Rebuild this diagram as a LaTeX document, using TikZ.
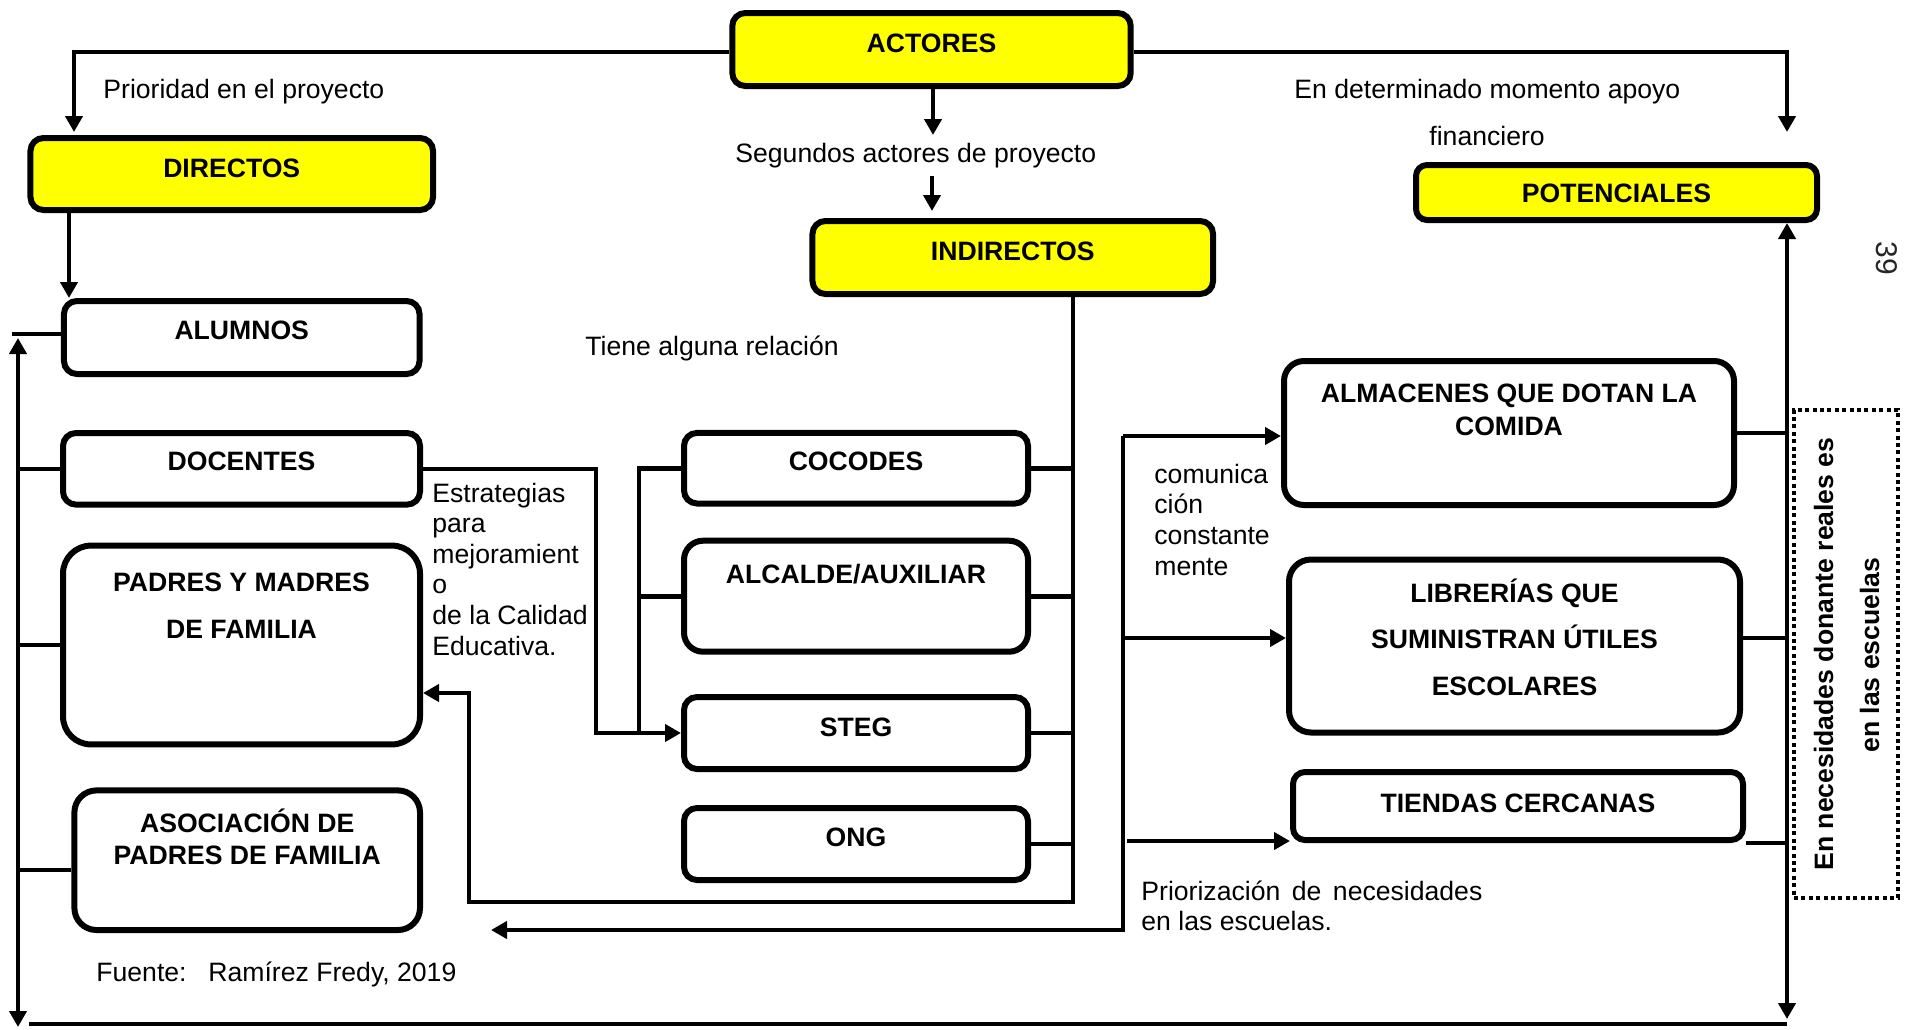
\documentclass[tikz,border=0pt]{standalone}
\usepackage{fontspec}
\setmainfont{Liberation Sans}
\usetikzlibrary{arrows.meta}
\definecolor{amarillo}{RGB}{255,255,0}
\newcommand\fsz{\fontsize{13.3}{16}\selectfont}

\begin{document}
\begin{tikzpicture}[x=0.5pt,y=-0.5pt,
		cbox/.style={draw,line width=3pt,inner sep=0pt,rounded corners=6.5pt},
		ybox/.style={cbox,fill=amarillo},
		blab/.style={font=\fsz\bfseries,anchor=base,inner sep=0pt},
		note/.style={font=\fsz,anchor=base west,inner sep=0pt},
		conn/.style={line width=2.3pt},
		arrw/.style={conn,-{Triangle[length=8pt,width=8.5pt]}},
		darrw/.style={conn,{Triangle[length=8pt,width=8.5pt]}-{Triangle[length=8pt,width=8.5pt]}}]

	\useasboundingbox (0,0) rectangle (1909,1029);

	% cajas amarillas
	\node[ybox,minimum width=199.2pt,minimum height=36.5pt] (actores) at (931.5,49.5) {};
	\node[ybox,minimum width=201.3pt,minimum height=36pt] (directos) at (231.75,174) {};
	\node[ybox,minimum width=200.3pt,minimum height=36.5pt] (indirectos) at (1012.75,257.5) {};
	\node[ybox,minimum width=200.5pt,minimum height=27.5pt,rounded corners=5.5pt] (potenciales) at (1616.5,192.5) {};

	% directos
	\node[cbox,minimum width=177.8pt,minimum height=36.5pt] (alumnos) at (241.75,337.5) {};
	\node[cbox,minimum width=178.5pt,minimum height=35.8pt] (docentes) at (241.5,468.8) {};
	\node[cbox,minimum width=178.5pt,minimum height=99.4pt,rounded corners=14pt] (padres) at (241.5,645) {};
	\node[cbox,minimum width=172.8pt,minimum height=69.8pt,rounded corners=11pt] (asociacion) at (247.2,860.2) {};

	% indirectos
	\node[cbox,minimum width=172pt,minimum height=35.3pt] (cocodes) at (856,468.2) {};
	\node[cbox,minimum width=172pt,minimum height=55.5pt,rounded corners=9.5pt] (alcalde) at (856,596.2) {};
	\node[cbox,minimum width=172pt,minimum height=36pt] (steg) at (856,733) {};
	\node[cbox,minimum width=172pt,minimum height=36pt] (ong) at (856,844) {};

	% potenciales
	\node[cbox,minimum width=225pt,minimum height=72pt,rounded corners=10pt] (almacenes) at (1509,433) {};
	\node[cbox,minimum width=225.5pt,minimum height=86.5pt,rounded corners=11pt] (librerias) at (1514.5,646) {};
	\node[cbox,minimum width=225pt,minimum height=34pt,rounded corners=6pt] (tiendas) at (1518,806) {};

	\node[draw,line width=2pt,dash pattern=on 2pt off 1.7pt,inner sep=0pt,
		minimum width=52pt,minimum height=244pt] (donante) at (1846,654) {};

	% textos de las cajas
	\node[blab] (actores-t) at (931.5,52) {ACTORES};
	\node[blab] (directos-t) at (231.75,177) {DIRECTOS};
	\node[blab] (indirectos-t) at (1012.75,260) {INDIRECTOS};
	\node[blab] (potenciales-t) at (1616.5,202) {POTENCIALES};
	\node[blab] (alumnos-t) at (241.75,339) {ALUMNOS};
	\node[blab] (docentes-t) at (241.5,470) {DOCENTES};
	\node[blab] (padres-a) at (241.5,591) {PADRES Y MADRES};
	\node[blab] (padres-b) at (241.5,638) {DE FAMILIA};
	\node[blab] (asociacion-a) at (247.2,832) {ASOCIACIÓN DE};
	\node[blab] (asociacion-b) at (247.2,864) {PADRES DE FAMILIA};
	\node[blab] (cocodes-t) at (856,470) {COCODES};
	\node[blab] (alcalde-t) at (856,583) {ALCALDE/AUXILIAR};
	\node[blab] (steg-t) at (856,736) {STEG};
	\node[blab] (ong-t) at (856,846) {ONG};
	\node[blab] (almacenes-a) at (1509,402) {ALMACENES QUE DOTAN LA};
	\node[blab] (almacenes-b) at (1509,435) {COMIDA};
	\node[blab] (librerias-a) at (1514.5,602) {LIBRERÍAS QUE};
	\node[blab] (librerias-b) at (1514.5,648) {SUMINISTRAN ÚTILES};
	\node[blab] (librerias-c) at (1514.5,695) {ESCOLARES};
	\node[blab] (tiendas-t) at (1518,812) {TIENDAS CERCANAS};
	\node[blab,rotate=90] (donante-a) at (1833,654) {En necesidades donante reales es};
	\node[blab,rotate=90] (donante-b) at (1879,655) {en las escuelas};

	% textos sueltos
	\node[note] (prioridad) at (103,98) {Prioridad en el proyecto};
	\node[note] (segundos) at (735,162) {Segundos actores de proyecto};
	\node[note] (apoyo) at (1294,98) {En determinado momento apoyo};
	\node[note] (financiero) at (1429,145) {financiero};
	\node[note] (relacion) at (585,355) {Tiene alguna relación};
	\foreach \t [count=\i from 0] in {Estrategias,para,mejoramient,o,de la Calidad,Educativa.}
		\node[note] (estrategia-\i) at (432,{502+30.6*\i}) {\t};
	\foreach \t [count=\i from 0] in {comunica,ción,constante,mente}
		\node[note] (comunica-\i) at (1154,{483+30.7*\i}) {\t};
	\node[note] (priorizacion-a) at (1141,900) {\makebox[170.5pt][s]{Priorización de necesidades}};
	\node[note] (priorizacion-b) at (1141,930) {en las escuelas.};
	\node[note] (fuente) at (96,981) {Fuente:\hspace{6pt} Ramírez Fredy, 2019};
	\node[font=\fontsize{15}{18}\selectfont,text=black!85,rotate=-90,inner sep=0pt] (pagina) at (1887,258) {39};

	% puntos de quiebre
	\coordinate (topL) at (74,52);
	\coordinate (dirTip) at (74,132);
	\coordinate (topR) at (1787,52);
	\coordinate (potTip) at (1787,132);
	\coordinate (sA) at (933,135);
	\coordinate (sB) at (932,176);
	\coordinate (sC) at (932,211);
	\coordinate (dA) at (69,0);
	\coordinate (lbT) at (12,334);
	\coordinate (lt) at (18,338);
	\coordinate (lbB) at (18,1027);
	\coordinate (asoc) at (18,870);
	\coordinate (bl) at (29,1024);
	\coordinate (rb) at (1787,0);
	\coordinate (rbot) at (1787,1019);
	\coordinate (ib) at (1073,902);
	\coordinate (ip) at (469,693);
	\coordinate (dk) at (596,0);
	\coordinate (ck) at (639,0);
	\coordinate (fk) at (1123,436);
	\coordinate (fe) at (491,930);
	\coordinate (lb) at (1123,638);
	\coordinate (tb) at (1127,841);

	% conectores
	\draw[arrw] (actores.west |- topL) -- (topL) -- (dirTip);
	\draw[arrw] (actores.east |- topR) -- (topR) -- (potTip);
	\draw[arrw] (actores.south -| sA) -- (sA);
	\draw[arrw] (sB) -- (sC);
	\draw[arrw] (directos.south -| dA) -- (alumnos.north -| dA);

	\draw[conn] (lbT) -- (lbT -| alumnos.west);
	\draw[darrw] (lbB) -- (lt);
	\draw[conn] (lt |- docentes.west) -- (docentes.west);
	\draw[conn] (lt |- padres.west) -- (padres.west);
	\draw[conn] (asoc) -- (asoc -| asociacion.west);
	\draw[conn] (bl) -- (rb |- bl);

	\draw[arrw] (docentes.east) -| (dk |- steg.west) -- (steg.west);
	\draw[conn] (cocodes.west) -| (ck |- steg.west);
	\draw[conn] (alcalde.west) -- (alcalde.west -| ck);

	\draw[arrw] (indirectos.south -| ib) -- (ib) -| (ip) -- (padres.east |- ip);
	\foreach \n in {cocodes,alcalde,steg,ong}
		\draw[conn] (\n.east) -- (\n.east -| ib);

	\draw[arrw] (fk) -- (fk -| almacenes.west);
	\draw[arrw] (fk) |- (fe);
	\draw[arrw] (lb) -- (lb -| librerias.west);
	\draw[arrw] (tb) -- (tb -| tiendas.west);

	\draw[darrw] (rbot) -- (rb |- potenciales.south);
	\draw[conn] (almacenes.east) -- (almacenes.east -| rb);
	\draw[conn] (librerias.east |- lb) -- (rb |- lb);
	\draw[conn] (tiendas.south east) -- (tiendas.south east -| rb);
\end{tikzpicture}
\end{document}
